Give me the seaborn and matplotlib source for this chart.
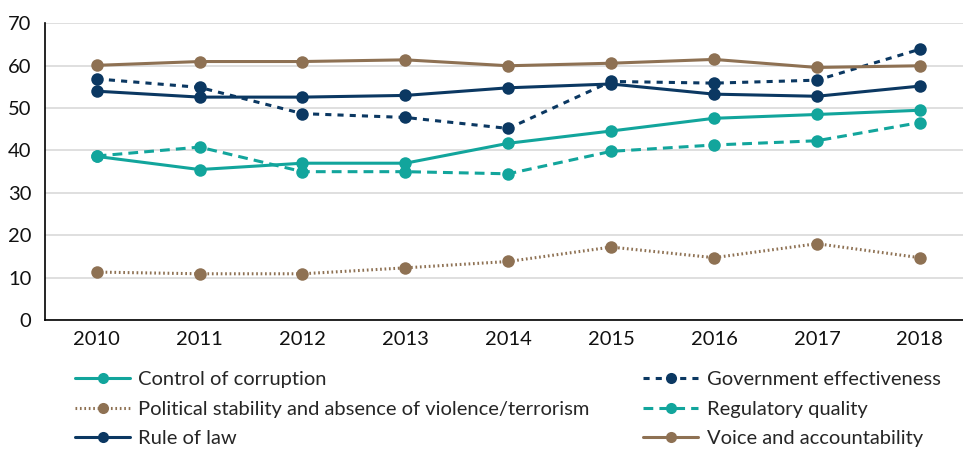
import matplotlib
matplotlib.use('Agg')
import pandas as pd
import matplotlib.pyplot as plt
import seaborn as sns

years = [2010, 2011, 2012, 2013, 2014, 2015, 2016, 2017, 2018]

control_corruption = [38.6, 35.5, 37.0, 37.0, 41.7, 44.6, 47.6, 48.5, 49.5]
political_stability = [11.3, 10.9, 10.9, 12.3, 13.8, 17.2, 14.7, 18.0, 14.7]
rule_of_law = [54.0, 52.6, 52.6, 53.0, 54.8, 55.7, 53.3, 52.8, 55.2]
gov_effectiveness = [56.9, 54.9, 48.7, 47.8, 45.2, 56.3, 55.9, 56.6, 63.9]
regulatory_quality = [38.7, 40.8, 35.0, 35.0, 34.5, 39.8, 41.3, 42.3, 46.6]
voice_accountability = [60.1, 61.0, 61.0, 61.4, 60.0, 60.6, 61.5, 59.6, 60.0]

names = [
    "Control of corruption",
    "Political stability and absence of violence/terrorism",
    "Rule of law",
    "Government effectiveness",
    "Regulatory quality",
    "Voice and accountability",
]
values = [control_corruption, political_stability, rule_of_law,
          gov_effectiveness, regulatory_quality, voice_accountability]

teal = "#12A59C"
navy = "#0B3862"
brown = "#8E7153"

palette = {names[0]: teal, names[1]: brown, names[2]: navy,
           names[3]: navy, names[4]: teal, names[5]: brown}
dashes = {names[0]: "", names[1]: (0.55, 0.9), names[2]: "",
          names[3]: (2.0, 2.0), names[4]: (3.2, 2.0), names[5]: ""}

rows = []
for name, vals in zip(names, values):
    for y, v in zip(years, vals):
        rows.append({"Year": y, "Score": v, "Indicator": name})
df = pd.DataFrame(rows)

sns.set_style("white")
plt.rcParams['font.family'] = ['Lato', 'DejaVu Sans']

fig = plt.figure(figsize=(9.63, 4.5), dpi=100)
ax = fig.add_axes([0.047, 0.289, 0.953, 0.659])

sns.lineplot(data=df, x="Year", y="Score", hue="Indicator", style="Indicator",
             hue_order=names, style_order=names, palette=palette, dashes=dashes,
             markers={n: "o" for n in names}, markersize=9, markeredgewidth=0,
             linewidth=2.2, ax=ax, legend=False)

ax.set_xlim(2009.5, 2018.42)
ax.set_ylim(0, 70)
ax.set_yticks(range(0, 71, 10))
ax.set_xticks(years)
ax.set_xlabel("")
ax.set_ylabel("")
ax.grid(axis="y", color="#d9d9d9", linewidth=1.2)
ax.set_axisbelow(True)
for s in ["top", "right"]:
    ax.spines[s].set_visible(False)
for s in ["left", "bottom"]:
    ax.spines[s].set_color("black")
    ax.spines[s].set_linewidth(1.2)
ax.tick_params(axis="both", length=0, labelsize=14.5, colors="#111111")
ax.tick_params(axis="y", pad=10)
ax.tick_params(axis="x", pad=8)

handles = []
for n in names:
    h, = ax.plot([], [], color=palette[n], marker="o", markersize=8,
                 markeredgewidth=0, linewidth=2.2,
                 linestyle=(0, dashes[n]) if dashes[n] else "-")
    handles.append(h)

fig.legend(handles, names, loc="upper left", bbox_to_anchor=(0.078, 0.176),
           ncol=2, frameon=False, fontsize=14.5, handlelength=2.73,
           columnspacing=2.68, labelspacing=0.63, handletextpad=0.4,
           borderaxespad=0, borderpad=0)

fig.savefig("out.png", dpi=100)
